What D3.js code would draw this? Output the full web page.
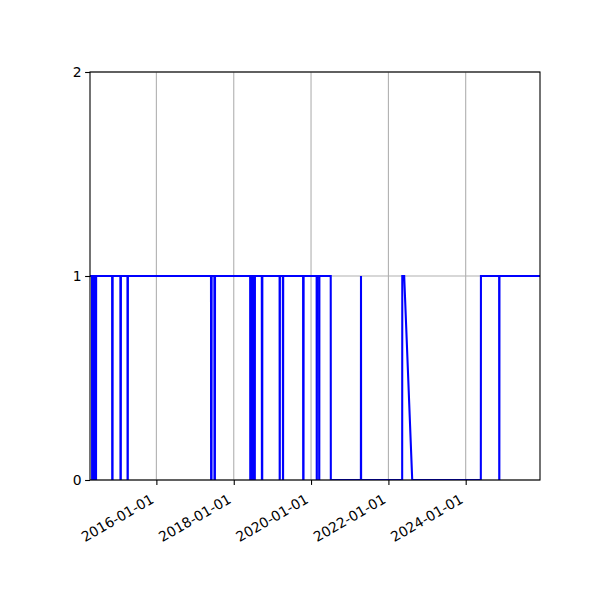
<!DOCTYPE html>
<html>
<head>
<meta charset="utf-8">
<script src="https://cdn.jsdelivr.net/npm/d3@7"></script>
<style>
  html, body { margin: 0; padding: 0; background: #fff; }
  svg { display: block; font-family: "DejaVu Sans", sans-serif; }
</style>
</head>
<body>
<div id="chart"></div>
<script>
const obsDates = [
  "2014-04-14",
  "2014-05-03", "2014-05-04", "2014-05-11", "2014-05-12", "2014-05-18", "2014-05-19",
  "2014-05-26", "2014-05-27", "2014-06-02", "2014-06-03", "2014-06-10", "2014-06-11",
  "2014-11-09", "2014-11-10", "2014-11-13", "2014-11-14",
  "2015-01-26", "2015-01-27", "2015-01-30", "2015-01-31",
  "2015-04-03", "2015-04-04", "2015-04-06", "2015-04-07",
  "2017-05-31", "2017-06-01", "2017-06-05", "2017-06-06",
  "2017-07-02", "2017-07-03", "2017-07-07", "2017-07-08",
  "2018-06-05", "2018-06-06", "2018-06-14", "2018-06-15", "2018-06-23", "2018-06-24",
  "2018-07-02", "2018-07-03", "2018-07-10", "2018-07-11", "2018-07-19", "2018-07-20",
  "2018-09-23", "2018-09-24", "2018-09-27", "2018-09-28",
  "2019-03-10", "2019-03-11", "2019-03-12", "2019-03-13",
  "2019-04-10", "2019-04-11", "2019-04-12", "2019-04-13",
  "2019-10-18", "2019-10-19", "2019-10-22", "2019-10-23",
  "2020-02-23", "2020-02-24", "2020-02-25", "2020-02-26",
  "2020-03-17", "2020-03-18", "2020-03-19", "2020-03-20",
  "2020-07-05", "2020-07-06",
  "2021-04-16", "2021-04-17", "2021-04-18",
  "2022-05-11", "2022-05-12", "2022-05-30", "2022-08-14",
  "2024-05-23", "2024-05-24",
  "2024-11-12", "2024-11-13", "2024-11-14", "2024-11-15",
  "2025-12-03"
];
const obsValues = [
  1,
  1, 0, 0, 1, 1, 0,
  0, 1, 1, 0, 0, 1,
  1, 0, 0, 1,
  1, 0, 0, 1,
  1, 0, 0, 1,
  1, 0, 0, 1,
  1, 0, 0, 1,
  1, 0, 0, 1, 1, 0,
  0, 1, 1, 0, 0, 1,
  1, 0, 0, 1,
  1, 0, 0, 1,
  1, 0, 0, 1,
  1, 0, 0, 1,
  1, 0, 0, 1,
  1, 0, 0, 1,
  1, 0,
  0, 1, 0,
  0, 1, 1, 0,
  0, 1,
  1, 0, 0, 1,
  1
];

const xTickLabels = ["2016-01-01", "2018-01-01", "2020-01-01", "2022-01-01", "2024-01-01"];
const yTickValues = [0, 1, 2];
const xDomain = ["2014-04-14", "2025-12-03"];
const yDomain = [0, 2];

const W = 600, H = 600;
const margin = {left: 90, right: 60, top: 72, bottom: 120};
const iw = W - margin.left - margin.right, ih = H - margin.top - margin.bottom;
const parse = d3.utcParse("%Y-%m-%d");
const fmt = d3.utcFormat("%Y-%m-%d");

const points = obsDates.map((d, i) => ({date: parse(d), value: obsValues[i]}));

const x = d3.scaleUtc().domain(xDomain.map(parse)).range([0, iw]);
const y = d3.scaleLinear().domain(yDomain).range([ih, 0]);

const svg = d3.select('#chart').append('svg')
  .attr('width', W).attr('height', H);

svg.append('defs').append('clipPath').attr('id', 'plot-clip')
  .append('rect').attr('width', iw).attr('height', ih);

const g = svg.append('g').attr('transform', `translate(${margin.left},${margin.top})`);

// grid
const xTicks = xTickLabels.map(parse);
g.append('g').selectAll('line').data(xTicks).enter().append('line')
  .attr('x1', d => x(d)).attr('x2', d => x(d))
  .attr('y1', 0).attr('y2', ih)
  .attr('stroke', '#b0b0b0').attr('stroke-width', 1.1);
g.append('g').selectAll('line').data(yTickValues).enter().append('line')
  .attr('x1', 0).attr('x2', iw)
  .attr('y1', d => y(d)).attr('y2', d => y(d))
  .attr('stroke', '#b0b0b0').attr('stroke-width', 1.1);

// series
const line = d3.line().x(d => x(d.date)).y(d => y(d.value));
g.append('path').datum(points)
  .attr('clip-path', 'url(#plot-clip)')
  .attr('d', line)
  .attr('fill', 'none')
  .attr('stroke', '#0000ff')
  .attr('stroke-width', 2.08)
  .attr('stroke-linejoin', 'miter');

// axes
const xAxis = d3.axisBottom(x).tickValues(xTicks).tickFormat(fmt)
  .tickSizeInner(4.9).tickSizeOuter(0).tickPadding(3.5);
const gx = g.append('g').attr('transform', `translate(0,${ih})`).call(xAxis);
gx.selectAll('text')
  .attr('y', 0).attr('dy', null)
  .attr('text-anchor', 'end')
  .attr('transform', 'translate(-2,22) rotate(-30)')
  .attr('font-size', 13.9).attr('fill', '#000')
  .attr('font-family', '"DejaVu Sans", sans-serif');

const yAxis = d3.axisLeft(y).tickValues(yTickValues).tickFormat(d3.format('d'))
  .tickSizeInner(4.9).tickSizeOuter(0).tickPadding(3.5);
const gy = g.append('g').call(yAxis);
gy.selectAll('text').attr('font-size', 13.9).attr('fill', '#000')
  .attr('font-family', '"DejaVu Sans", sans-serif');

[gx, gy].forEach(a => {
  a.select('.domain').remove();
  a.selectAll('.tick line').attr('stroke', '#000').attr('stroke-width', 1.1);
});

// spines on top
g.append('rect').attr('width', iw).attr('height', ih)
  .attr('fill', 'none').attr('stroke', '#000').attr('stroke-width', 1.1);
</script>
</body>
</html>
